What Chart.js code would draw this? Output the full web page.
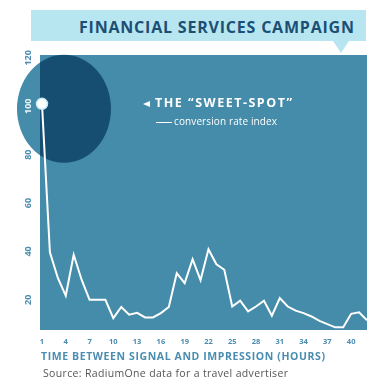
<!DOCTYPE html>
<html>
<head>
<meta charset="utf-8">
<script src="https://cdn.jsdelivr.net/npm/chart.js@4.4.1/dist/chart.umd.min.js"></script>
<style>
  body { margin: 0; background: #fff; width: 381px; height: 386px; overflow: hidden; position: relative; font-family: "Open Sans", sans-serif; }
  #chart { position: absolute; left: 0; top: 0; }
  .txt { position: absolute; white-space: nowrap; }
  #banner { position: absolute; left: 31px; top: 10px; width: 335px; height: 31px; background: #b7e6f1; }
  #banner:after { content: ""; position: absolute; left: 302px; top: 31px; border-left: 8px solid transparent; border-right: 8px solid transparent; border-top: 12px solid #b7e6f1; }
  #title { left: 79px; top: 19px; font-size: 16px; line-height: 16px; font-weight: 700; color: #1b4f74; }
  #xtitle { left: 41px; top: 350.5px; font-size: 10.5px; line-height: 10.5px; font-weight: 700; color: #4a8db0; }
  #source { left: 43px; top: 367.5px; font-size: 10.5px; line-height: 10.5px; color: #555; }
  #arrow { position: absolute; left: 143px; top: 100.5px; width: 0; height: 0; border-right: 7px solid #fff; border-top: 3.5px solid transparent; border-bottom: 3.5px solid transparent; }
  #sweet { left: 155px; top: 97px; font-size: 12.5px; line-height: 12.5px; font-weight: 700; color: #fff; }
  #dash { position: absolute; left: 156px; top: 121.5px; width: 16px; height: 1.5px; background: #fff; }
  #legend { left: 174px; top: 116.1px; font-size: 10px; line-height: 10px; color: #fff; }
</style>
</head>
<body>
<div id="banner"></div>
<div class="txt" id="title" data-w="275">FINANCIAL SERVICES CAMPAIGN</div>
<canvas id="chart" width="381" height="386"></canvas>
<div id="arrow"></div>
<div class="txt" id="sweet" data-w="137">THE “SWEET-SPOT”</div>
<div id="dash"></div>
<div class="txt" id="legend" data-w="103">conversion rate index</div>
<div class="txt" id="xtitle" data-w="284">TIME BETWEEN SIGNAL AND IMPRESSION (HOURS)</div>
<div class="txt" id="source" data-w="245">Source: RadiumOne data for a travel advertiser</div>
<script>
// hours between signal and impression
var hours = [1, 2, 3, 4, 5, 6, 7, 8, 9, 10, 11, 12, 13, 14, 15, 16, 17, 18, 19, 20, 21,
	22, 23, 24, 25, 26, 27, 28, 29, 30, 31, 32, 33, 34, 35, 36, 37, 38, 39, 40, 41, 42];
// conversion rate index
var rateIndex = [101, 39.6, 29, 21.7, 38.6, 28.3, 20, 20, 20, 12.4, 17, 13.8, 14.6, 12.7, 12.7, 14.5, 17,
	31, 26.9, 36.8, 28.1, 40.9, 34.7, 32.4, 17.2, 19.6, 15.2, 17.2, 19.6, 13.4, 20.7, 17.2, 15.5,
	14.5, 13.1, 11.3, 9.9, 8.6, 8.6, 14.2, 14.8, 11.5];
var xTicks = [1, 4, 7, 10, 13, 16, 19, 22, 25, 28, 31, 34, 37, 40];
var yTicks = [20, 40, 60, 80, 100, 120];

var PLOT = '#448ca9';
var NAVY = '#154e70';
var AXIS = '#4a8db0';

// stretch the texts to the widths of the original (its font is wider)
for (let el of document.querySelectorAll('[data-w]')) {
	var n = el.textContent.length - 1;
	var w = el.getBoundingClientRect().width;
	el.style.letterSpacing = ((+el.dataset.w - w) / n) + 'px';
}

// plot background + "sweet-spot" ellipse + y labels
var decor = {
	id: 'decor',
	beforeDraw: function(chart) {
		var ctx = chart.ctx, a = chart.chartArea;
		ctx.save();
		ctx.fillStyle = PLOT;
		ctx.fillRect(a.left, a.top, a.right - a.left, a.bottom - a.top);
		var x0 = chart.scales.x.getPixelForValue(hours[0]);
		var y0 = chart.scales.y.getPixelForValue(rateIndex[0]);
		ctx.beginPath();
		ctx.ellipse(x0 + 22, y0 + 5, 47, 54, 0, 0, Math.PI * 2);
		ctx.fillStyle = PLOT;
		ctx.fill();
		ctx.clip();
		ctx.fillStyle = NAVY;
		ctx.fillRect(a.left, a.top, a.right - a.left, a.bottom - a.top);
		ctx.restore();
	},
	afterDraw: function(chart) {
		var ctx = chart.ctx, y = chart.scales.y;
		ctx.save();
		ctx.font = 'bold 9px "Open Sans"';
		ctx.textAlign = 'center';
		ctx.textBaseline = 'middle';
		for (let v of yTicks) {
			ctx.save();
			ctx.translate(28, y.getPixelForValue(v));
			ctx.rotate(-Math.PI / 2);
			ctx.fillStyle = v === 100 ? '#e4f3f8' : AXIS;
			ctx.fillText(String(v), 0, 0);
			ctx.restore();
		}
		ctx.restore();
	}
};

new Chart(document.getElementById('chart'), {
	type: 'line',
	data: {
		datasets: [{
			data: hours.map(function(h, i) { return { x: h, y: rateIndex[i] }; }),
			borderColor: '#fff',
			borderWidth: 2,
			tension: 0,
			clip: false,
			pointRadius: function(c) { return c.dataIndex === 0 ? 5.5 : 0; },
			pointBackgroundColor: '#fff',
			pointBorderColor: '#c6ebf5',
			pointBorderWidth: 1.5
		}]
	},
	options: {
		responsive: false,
		devicePixelRatio: 1,
		animation: false,
		layout: { padding: { left: 40, top: 55, right: 14, bottom: 0 } },
		plugins: { legend: { display: false }, tooltip: { enabled: false } },
		scales: {
			x: {
				type: 'linear',
				min: 0.75,
				max: 42,
				afterBuildTicks: function(s) { s.ticks = xTicks.map(function(v) { return { value: v }; }); },
				afterFit: function(s) { s.height = 56; },
				grid: { display: false, drawTicks: false },
				border: { display: false },
				ticks: { color: AXIS, font: { family: 'Open Sans', weight: 'bold', size: 7.5 }, padding: 7, maxRotation: 0 }
			},
			y: {
				display: false,
				min: 7.5,
				max: 121.2
			}
		}
	},
	plugins: [decor]
});
</script>
</body>
</html>
